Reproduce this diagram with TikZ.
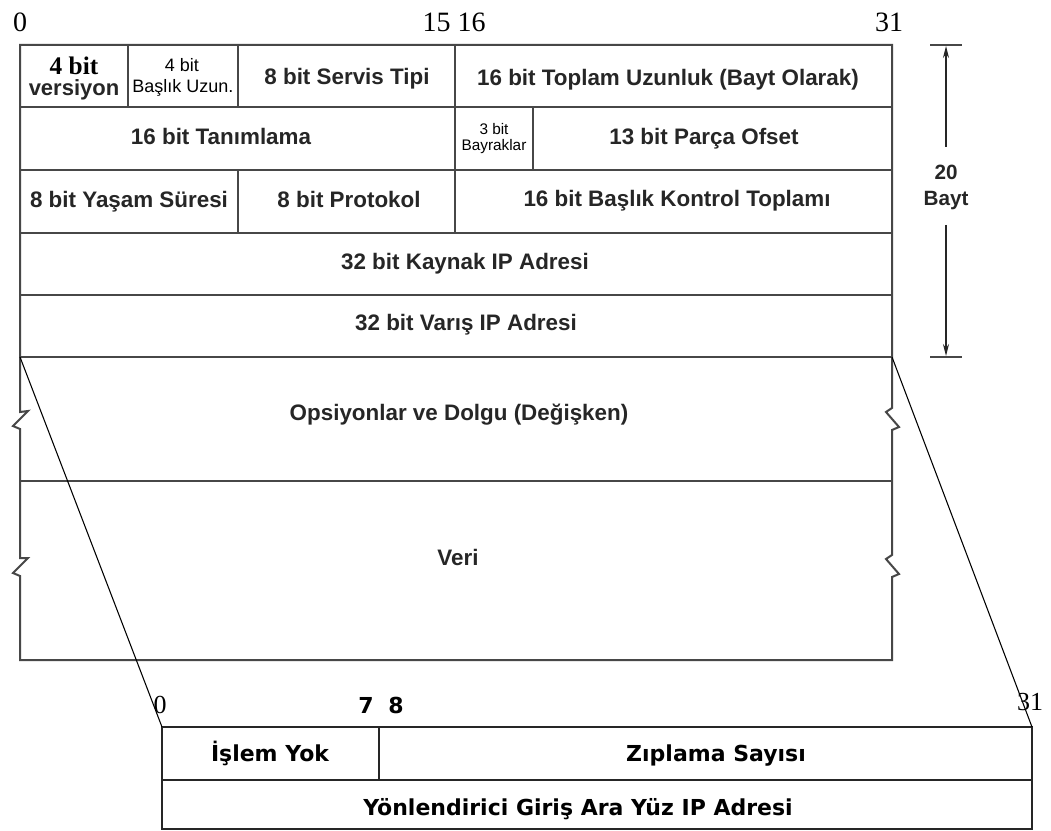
\documentclass[tikz,border=0pt]{standalone}
\usepackage{fontspec}
\usetikzlibrary{arrows.meta}
\newfontfamily\labb{Liberation Sans}
\newfontfamily\num{Liberation Serif}
\newfontfamily\bmp{DejaVu Sans}
\tikzset{
  frame/.style={line width=1.5pt, draw=black!72, line join=miter},
  frametwo/.style={line width=1.1pt, draw=black!85},
  lead/.style={line width=0.8pt, draw=black},
  lbl/.style={font=\labb\bfseries\fontsize{16.8}{20}\selectfont, text=black!85, anchor=base, inner sep=0pt},
  small/.style={font=\labb\fontsize{13.5}{15}\selectfont, anchor=base, inner sep=0pt},
  tiny/.style={font=\labb\fontsize{11.5}{13}\selectfont, anchor=base, inner sep=0pt},
  bitnum/.style={font=\num\fontsize{21}{24}\selectfont, anchor=base, inner sep=0pt},
  bitnumb/.style={font=\num\fontsize{19.5}{22}\selectfont, anchor=base, inner sep=0pt},
  bmplbl/.style={font=\bmp\bfseries\fontsize{16.5}{19}\selectfont, anchor=base, inner sep=0pt},
  dimlbl/.style={font=\labb\bfseries\fontsize{15.5}{18}\selectfont, text=black!85, anchor=base, inner sep=0pt},
  dimarrow/.style={line width=0.9pt, draw=black!85, -{Stealth[length=9pt,width=4.5pt]}}
}
\begin{document}
\begin{tikzpicture}[x=0.75pt,y=-0.75pt]
\useasboundingbox[fill=white] (0,0) rectangle (1051,831);

% ---- IPv4 header frame with break marks ----
\draw[frame] (20,412) -- (20,45) -- (892,45) -- (892,408) -- (886,412) -- (899,427) -- (892,430)
  -- (892,555) -- (886,559) -- (899,574) -- (892,577) -- (892,660) -- (20,660)
  -- (20,576) -- (13,573) -- (28,558) -- (20,558) -- (20,429) -- (13,426) -- (28,411) -- cycle;

% row separators
\foreach \y in {107,170,233,295,357,481}
  \draw[frame] (20,\y) -- (892,\y);

% field separators
\draw[frame] (128,45) -- (128,107);
\draw[frame] (238,45) -- (238,107);
\draw[frame] (238,170) -- (238,233);
\draw[frame] (455,45) -- (455,233);
\draw[frame] (533,107) -- (533,170);

% ---- bit positions ----
\node[bitnum] (n0)  at (20,32)  {0};
\node[bitnum] (n15) at (454,32) {15 16};
\node[bitnum] (n31) at (889,32) {31};

% ---- header fields ----
\node[font=\num\bfseries\fontsize{19}{22}\selectfont, anchor=base, inner sep=0pt] (ver1) at (74,75) {4 bit};
\node[font=\labb\bfseries\fontsize{16.5}{19}\selectfont, text=black!85, anchor=base, inner sep=0pt] (ver2) at (74,96) {versiyon};
\node[small] (hl1) at (182,72) {4 bit};
\node[small] (hl2) at (183,93) {Başlık Uzun.};
\node[lbl] (tos) at (347,85) {8 bit Servis Tipi};
\node[lbl] (len) at (668,86) {16 bit Toplam Uzunluk (Bayt Olarak)};

\node[lbl] (ident) at (221,145) {16 bit Tanımlama};
\node[tiny] (fl1) at (494,135) {3 bit};
\node[tiny] (fl2) at (494,151) {Bayraklar};
\node[lbl] (frag) at (704,145) {13 bit Parça Ofset};

\node[lbl] (ttl) at (129,208) {8 bit Yaşam Süresi};
\node[lbl] (proto) at (349,208) {8 bit Protokol};
\node[lbl] (csum) at (677,207) {16 bit Başlık Kontrol Toplamı};

\node[lbl] (src) at (465,270) {32 bit Kaynak IP Adresi};
\node[lbl] (dst) at (466,330) {32 bit Varış IP Adresi};

\node[lbl] (opt) at (459,421) {Opsiyonlar ve Dolgu (Değişken)};
\node[lbl] (data) at (458,565) {Veri};

% ---- header length dimension ----
\coordinate (dtop) at (946,46);
\coordinate (dbot) at (946,356);
\draw[frame, line width=1.1pt] (930,45) -- (962,45);
\draw[frame, line width=1.1pt] (930,357) -- (962,357);
\node[dimlbl] (d20) at (946,180) {20};
\node[dimlbl] (dbyte) at (946,206) {Bayt};
\draw[dimarrow] (946,147) -- (dtop);
\draw[dimarrow] (946,225) -- (dbot);

% ---- option detail (record route entry) ----
\draw[frametwo] (162,727) rectangle (1032,829);
\draw[frametwo] (162,780) -- (1032,780);
\draw[frametwo] (379,727) -- (379,780);

\coordinate (mBL) at (20,357);
\coordinate (mBR) at (892,357);
\coordinate (bTL) at (162,727);
\coordinate (bTR) at (1032,727);
\draw[lead] (mBL) -- (bTL);
\draw[lead] (mBR) -- (bTR);

\node[bitnumb] (b0)  at (160,713) {0};
\node[bmplbl]  (b7)  at (366,713) {7};
\node[bmplbl]  (b8)  at (396,713) {8};
\node[bitnumb] (b31) at (1030,710) {31};

\node[bmplbl] (noop) at (270,761) {İşlem Yok};
\node[bmplbl] (hops) at (716,761) {Zıplama Sayısı};
\node[bmplbl] (ifaddr) at (578,815) {Yönlendirici Giriş Ara Yüz IP Adresi};
\end{tikzpicture}
\end{document}
